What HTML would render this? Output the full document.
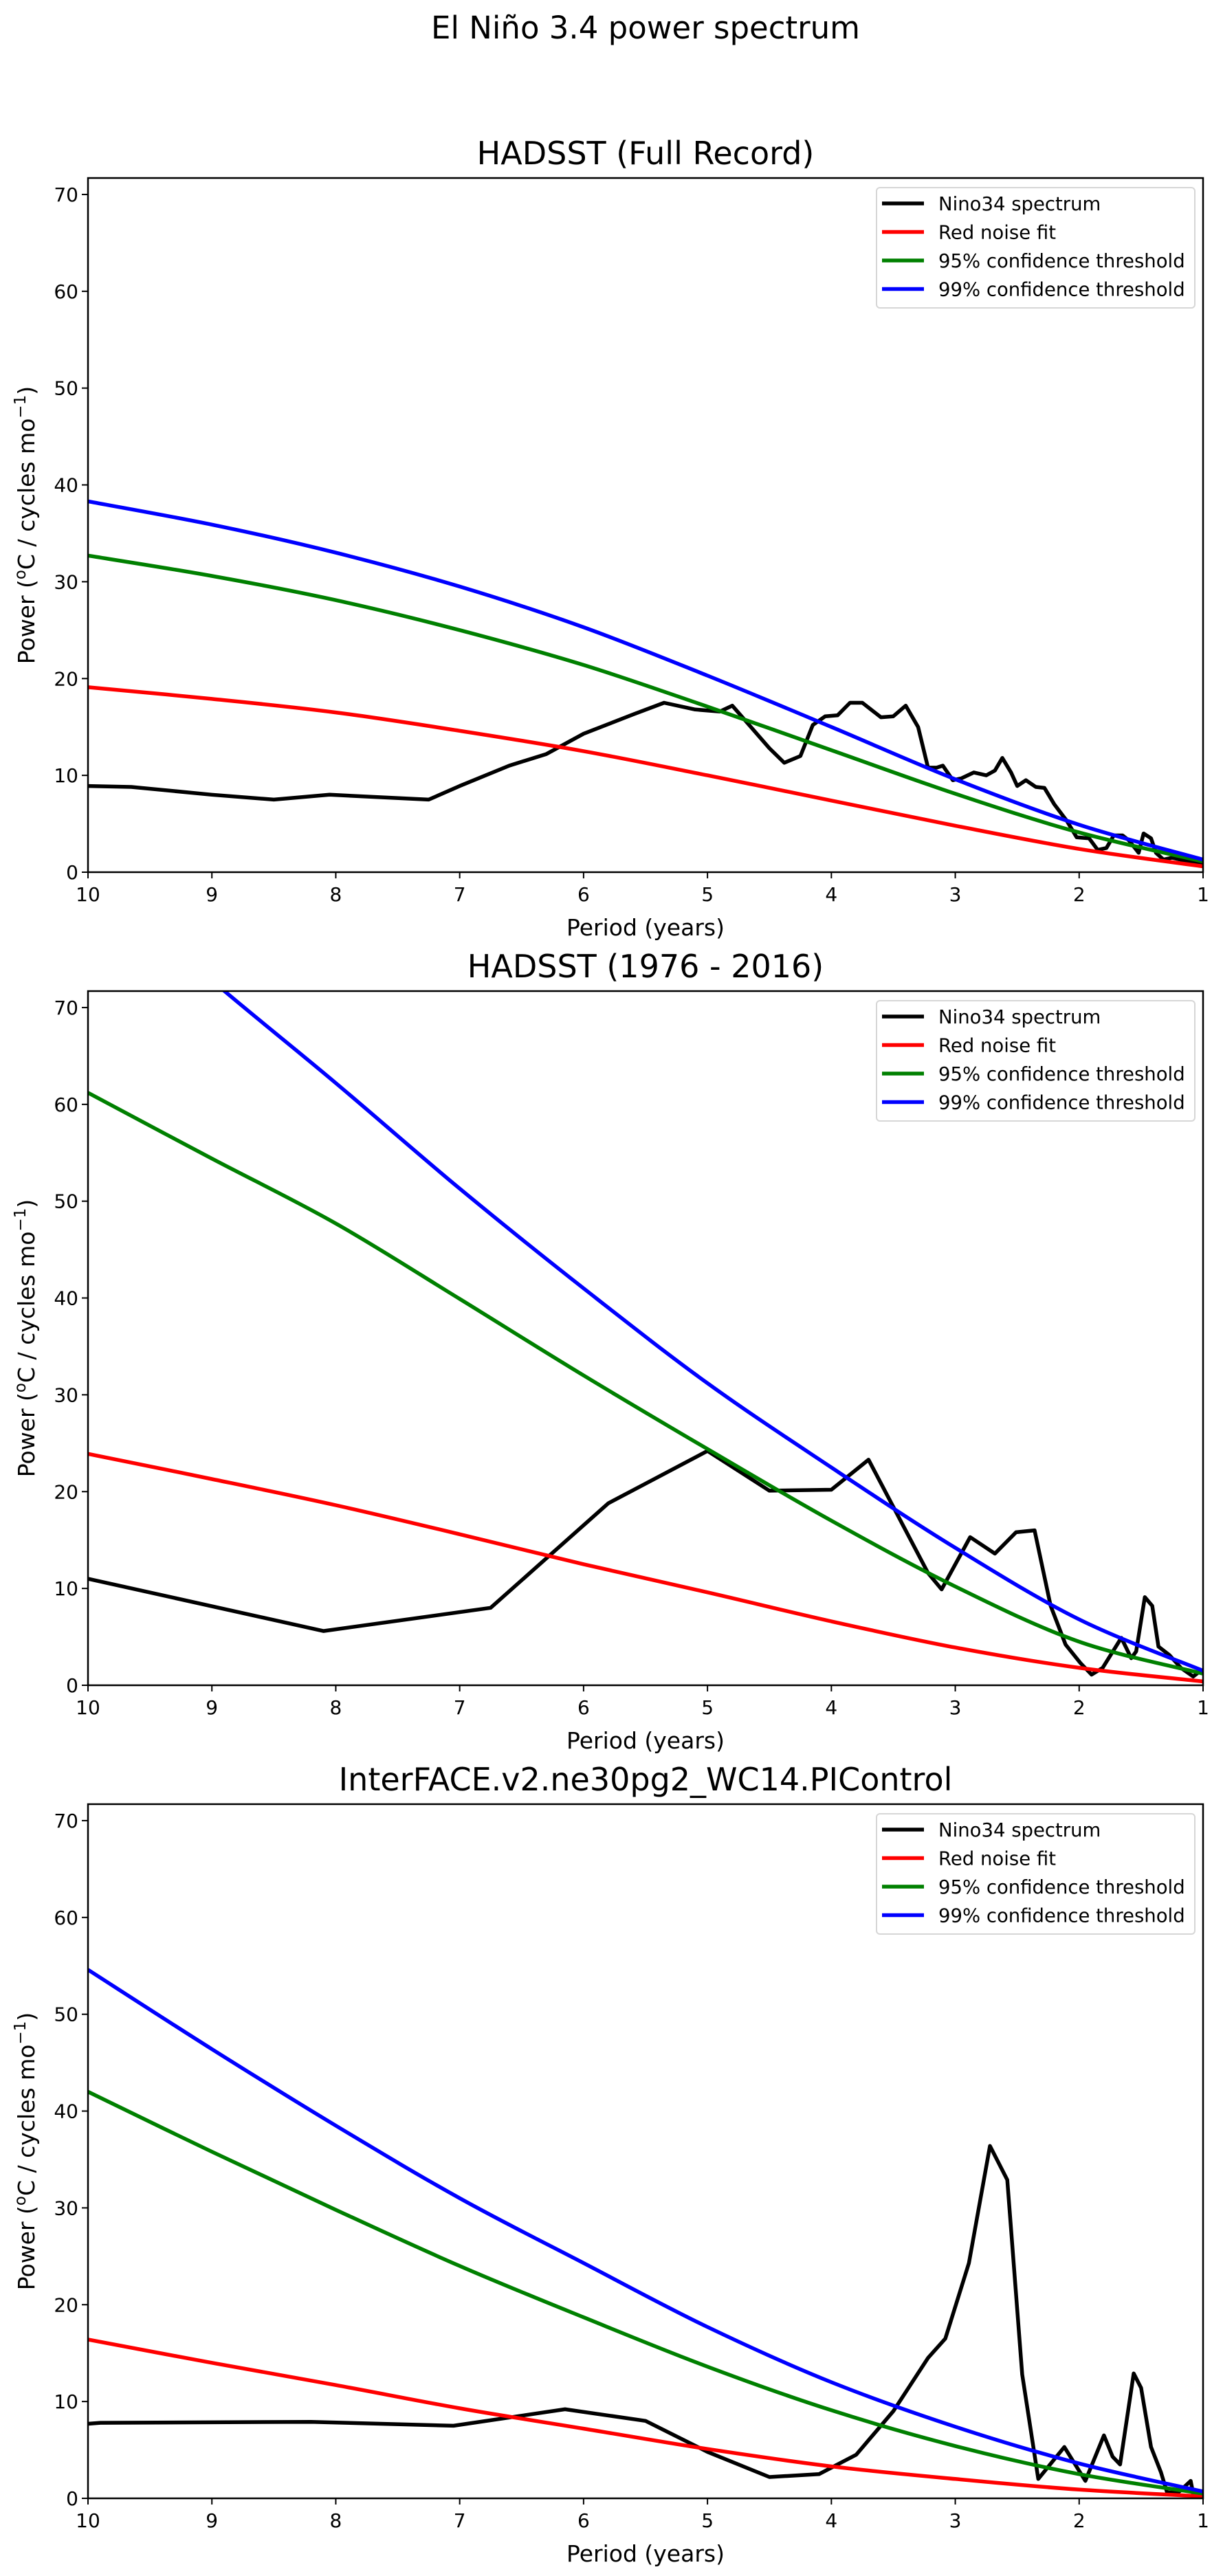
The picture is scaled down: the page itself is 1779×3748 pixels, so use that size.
<!DOCTYPE html>
<html><head><meta charset="utf-8">
<style>
html,body{margin:0;padding:0;background:#fff;}
svg{display:block;font-family:"DejaVu Sans","Liberation Sans",sans-serif;}
</style></head>
<body>
<svg id="fig" width="1779" height="3748" viewBox="0 0 1779 3748" xmlns="http://www.w3.org/2000/svg">
<rect width="1779" height="3748" fill="#fff"/>
<text x="939" y="56" font-size="45" text-anchor="middle">El Niño 3.4 power spectrum</text>
</svg>
<script>
// ---- data ----
const xTicks = [10,9,8,7,6,5,4,3,2,1];
const yTicks = [0,10,20,30,40,50,60,70];
const titles = ["HADSST (Full Record)","HADSST (1976 - 2016)","InterFACE.v2.ne30pg2_WC14.PIControl"];
const legendLabels = ["Nino34 spectrum","Red noise fit","95% confidence threshold","99% confidence threshold"];
const curvePeriods = [10,9,8,7,6,5,4,3,2,1];

const p1Red   = [19.1,17.9,16.5,14.6,12.5,10.0,7.4,4.8,2.4,0.6];
const p1Green = [32.7,30.6,28.1,25.0,21.4,17.1,12.6,8.1,4.1,1.1];
const p1Blue  = [38.3,35.9,33.0,29.5,25.3,20.3,15.0,9.6,4.9,1.3];
const p1BlackPeriod = [10,9.65,9,8.5,8.05,7.25,7,6.6,6.3,6.0,5.6,5.35,5.1,4.9,4.8,4.65,4.5,4.38,4.25,4.15,4.05,3.95,3.85,3.75,3.6,3.5,3.4,3.3,3.22,3.15,3.1,3.02,2.95,2.85,2.75,2.68,2.62,2.55,2.5,2.43,2.35,2.28,2.2,2.1,2.02,1.92,1.85,1.78,1.72,1.65,1.6,1.52,1.48,1.42,1.38,1.32,1.25,1.15,1.05,1];
const p1BlackPower  = [8.9,8.8,8.0,7.5,8.0,7.5,8.9,11.0,12.2,14.3,16.3,17.5,16.8,16.6,17.2,15.0,12.8,11.3,12.0,15.2,16.1,16.2,17.5,17.5,16.0,16.1,17.2,15.0,10.8,10.8,11.0,9.5,9.7,10.3,10.0,10.5,11.8,10.3,8.9,9.5,8.8,8.7,7.0,5.3,3.6,3.5,2.3,2.5,3.8,3.8,3.3,2.0,4.0,3.5,2.0,1.3,1.5,1.2,1.0,0.9];

const p2Red   = [23.9,21.3,18.6,15.6,12.5,9.6,6.6,3.9,1.8,0.4];
const p2Green = [61.2,54.4,47.7,39.9,32.0,24.4,17.0,10.2,4.5,1.2];
const p2Blue  = [84.0,72.8,62.2,51.3,41.0,31.2,22.5,14.2,6.8,1.5];
const p2BlackPeriod = [10,8.1,6.75,5.8,5.0,4.5,4.0,3.7,3.22,3.11,2.88,2.68,2.51,2.36,2.23,2.11,1.99,1.90,1.81,1.66,1.58,1.54,1.47,1.41,1.36,1.27,1.18,1.08,1.03,1];
const p2BlackPower  = [11.0,5.6,8.0,18.8,24.2,20.1,20.2,23.3,11.6,9.9,15.3,13.6,15.8,16.0,8.2,4.2,2.3,1.1,1.8,4.9,2.8,3.5,9.1,8.2,4.0,3.1,1.8,0.9,1.4,1.2];

const p3Red   = [16.4,14.0,11.7,9.3,7.2,5.1,3.3,2.0,0.9,0.2];
const p3Green = [42.0,35.8,29.8,24.0,18.7,13.6,9.1,5.4,2.5,0.5];
const p3Blue  = [54.6,46.4,38.5,31.0,24.3,17.7,12.0,7.4,3.6,0.7];
const p3BlackPeriod = [10,9.9,8.2,7.05,6.15,5.5,5.0,4.5,4.1,3.8,3.5,3.22,3.08,2.89,2.72,2.58,2.46,2.33,2.12,1.95,1.80,1.73,1.67,1.56,1.50,1.42,1.34,1.29,1.20,1.10,1.08,1];
const p3BlackPower  = [7.7,7.8,7.9,7.5,9.2,8.0,4.8,2.2,2.5,4.5,9.0,14.5,16.5,24.3,36.4,32.9,12.8,2.0,5.3,1.8,6.5,4.3,3.5,12.9,11.4,5.3,2.7,0.6,0.6,1.8,0.5,0.2];

const panels = [
  {red:p1Red,green:p1Green,blue:p1Blue,bx:p1BlackPeriod,by:p1BlackPower},
  {red:p2Red,green:p2Green,blue:p2Blue,bx:p2BlackPeriod,by:p2BlackPower},
  {red:p3Red,green:p3Green,blue:p3Blue,bx:p3BlackPeriod,by:p3BlackPower}
];

// ---- layout ----
const NS = "http://www.w3.org/2000/svg";
const fig = document.getElementById('fig');
const L = 128, R = 1750, H = 1010;
const tops = [259, 1442, 2625];
const YMAX = 71.7;

function mk(tag, attrs, parent){
  const e = document.createElementNS(NS, tag);
  for (const k in attrs) e.setAttribute(k, attrs[k]);
  parent.appendChild(e);
  return e;
}
function smoothPath(pts){
  let d = "M" + pts[0][0].toFixed(1) + "," + pts[0][1].toFixed(1);
  for (let i=0;i<pts.length-1;i++){
    const p0 = pts[Math.max(0,i-1)], p1 = pts[i], p2 = pts[i+1], p3 = pts[Math.min(pts.length-1,i+2)];
    const c1x = p1[0]+(p2[0]-p0[0])/6, c1y = p1[1]+(p2[1]-p0[1])/6;
    const c2x = p2[0]-(p3[0]-p1[0])/6, c2y = p2[1]-(p3[1]-p1[1])/6;
    d += " C"+c1x.toFixed(1)+","+c1y.toFixed(1)+" "+c2x.toFixed(1)+","+c2y.toFixed(1)+" "+p2[0].toFixed(1)+","+p2[1].toFixed(1);
  }
  return d;
}

panels.forEach((pd, idx) => {
  const T = tops[idx], B = T + H;
  const xs = p => L + (10 - p) / 9 * (R - L);
  const ys = v => B - v / YMAX * H;
  const g = mk('g', {}, fig);
  
  

  const clipId = 'clip' + idx;
  const cp = mk('clipPath', {id: clipId}, g);
  mk('rect', {x: L, y: T, width: R-L, height: H}, cp);

  const title = mk('text', {x: (L+R)/2, y: T-20, 'font-size': 46, 'text-anchor': 'middle'}, g);
  title.textContent = titles[idx];
  
  

  const sg = mk('g', {'clip-path': 'url(#'+clipId+')'}, g);
  const bpts = pd.bx.map((p,i)=>xs(p).toFixed(1)+","+ys(pd.by[i]).toFixed(1)).join(" ");
  const bl = mk('polyline', {points: bpts, fill: 'none', stroke: '#000', 'stroke-width': 5.5, 'stroke-linejoin': 'round'}, sg);
  
  
  const series = [[pd.red,'#ff0000','red-noise-line'],[pd.green,'#008000','confidence-95-line'],[pd.blue,'#0000ff','confidence-99-line']];
  series.forEach(s => {
    const pts = curvePeriods.map((p,i)=>[xs(p), ys(s[0][i])]);
    const path = mk('path', {d: smoothPath(pts), fill: 'none', stroke: s[1], 'stroke-width': 5.5}, sg);
    
    
  });

  const fr = mk('rect', {x: L, y: T, width: R-L, height: H, fill: 'none', stroke: '#000', 'stroke-width': 2.5}, g);
  
  

  xTicks.forEach(t => {
    const x = xs(t);
    mk('line', {x1: x, y1: B, x2: x, y2: B+9, stroke: '#000', 'stroke-width': 2}, g);
    const tl = mk('text', {x: x, y: B+42, 'font-size': 28, 'text-anchor': 'middle'}, g);
    tl.textContent = t;
    
    
  });
  yTicks.forEach(t => {
    const y = ys(t);
    mk('line', {x1: L-9, y1: y, x2: L, y2: y, stroke: '#000', 'stroke-width': 2}, g);
    const tl = mk('text', {x: L-14, y: y+10, 'font-size': 28, 'text-anchor': 'end'}, g);
    tl.textContent = t;
    
    
  });

  const xl = mk('text', {x: (L+R)/2, y: B+92, 'font-size': 33, 'text-anchor': 'middle'}, g);
  xl.textContent = 'Period (years)';
  
  

  const yc = T + H/2;
  const yl = mk('text', {x: 0, y: 0, 'font-size': 33, 'text-anchor': 'middle', transform: 'translate(50,'+yc+') rotate(-90)'}, g);
  const t1 = mk('tspan', {}, yl); t1.textContent = 'Power (';
  const t2 = mk('tspan', {'baseline-shift':'super','font-size':23}, yl); t2.textContent = 'o';
  const t3 = mk('tspan', {}, yl); t3.textContent = 'C / cycles mo';
  const t4 = mk('tspan', {'baseline-shift':'super','font-size':23}, yl); t4.textContent = '−1';
  const t5 = mk('tspan', {}, yl); t5.textContent = ')';
  
  

  const lg = mk('g', {}, g);
  
  
  mk('rect', {x: 1275, y: T+14, width: 463, height: 175, rx: 5, fill: '#fff', 'fill-opacity': 0.8, stroke: '#d6d6d6', 'stroke-width': 2}, lg);
  const cols = ['#000','#ff0000','#008000','#0000ff'];
  legendLabels.forEach((lab,i) => {
    const y = T + 37 + i*41.5;
    const ln = mk('line', {x1: 1283, y1: y, x2: 1344, y2: y, stroke: cols[i], 'stroke-width': 5.5}, lg);
    
    
    const tx = mk('text', {x: 1365, y: y+10, 'font-size': 27.5}, lg);
    tx.textContent = lab;
    
    
  });
});
</script>
</body></html>
